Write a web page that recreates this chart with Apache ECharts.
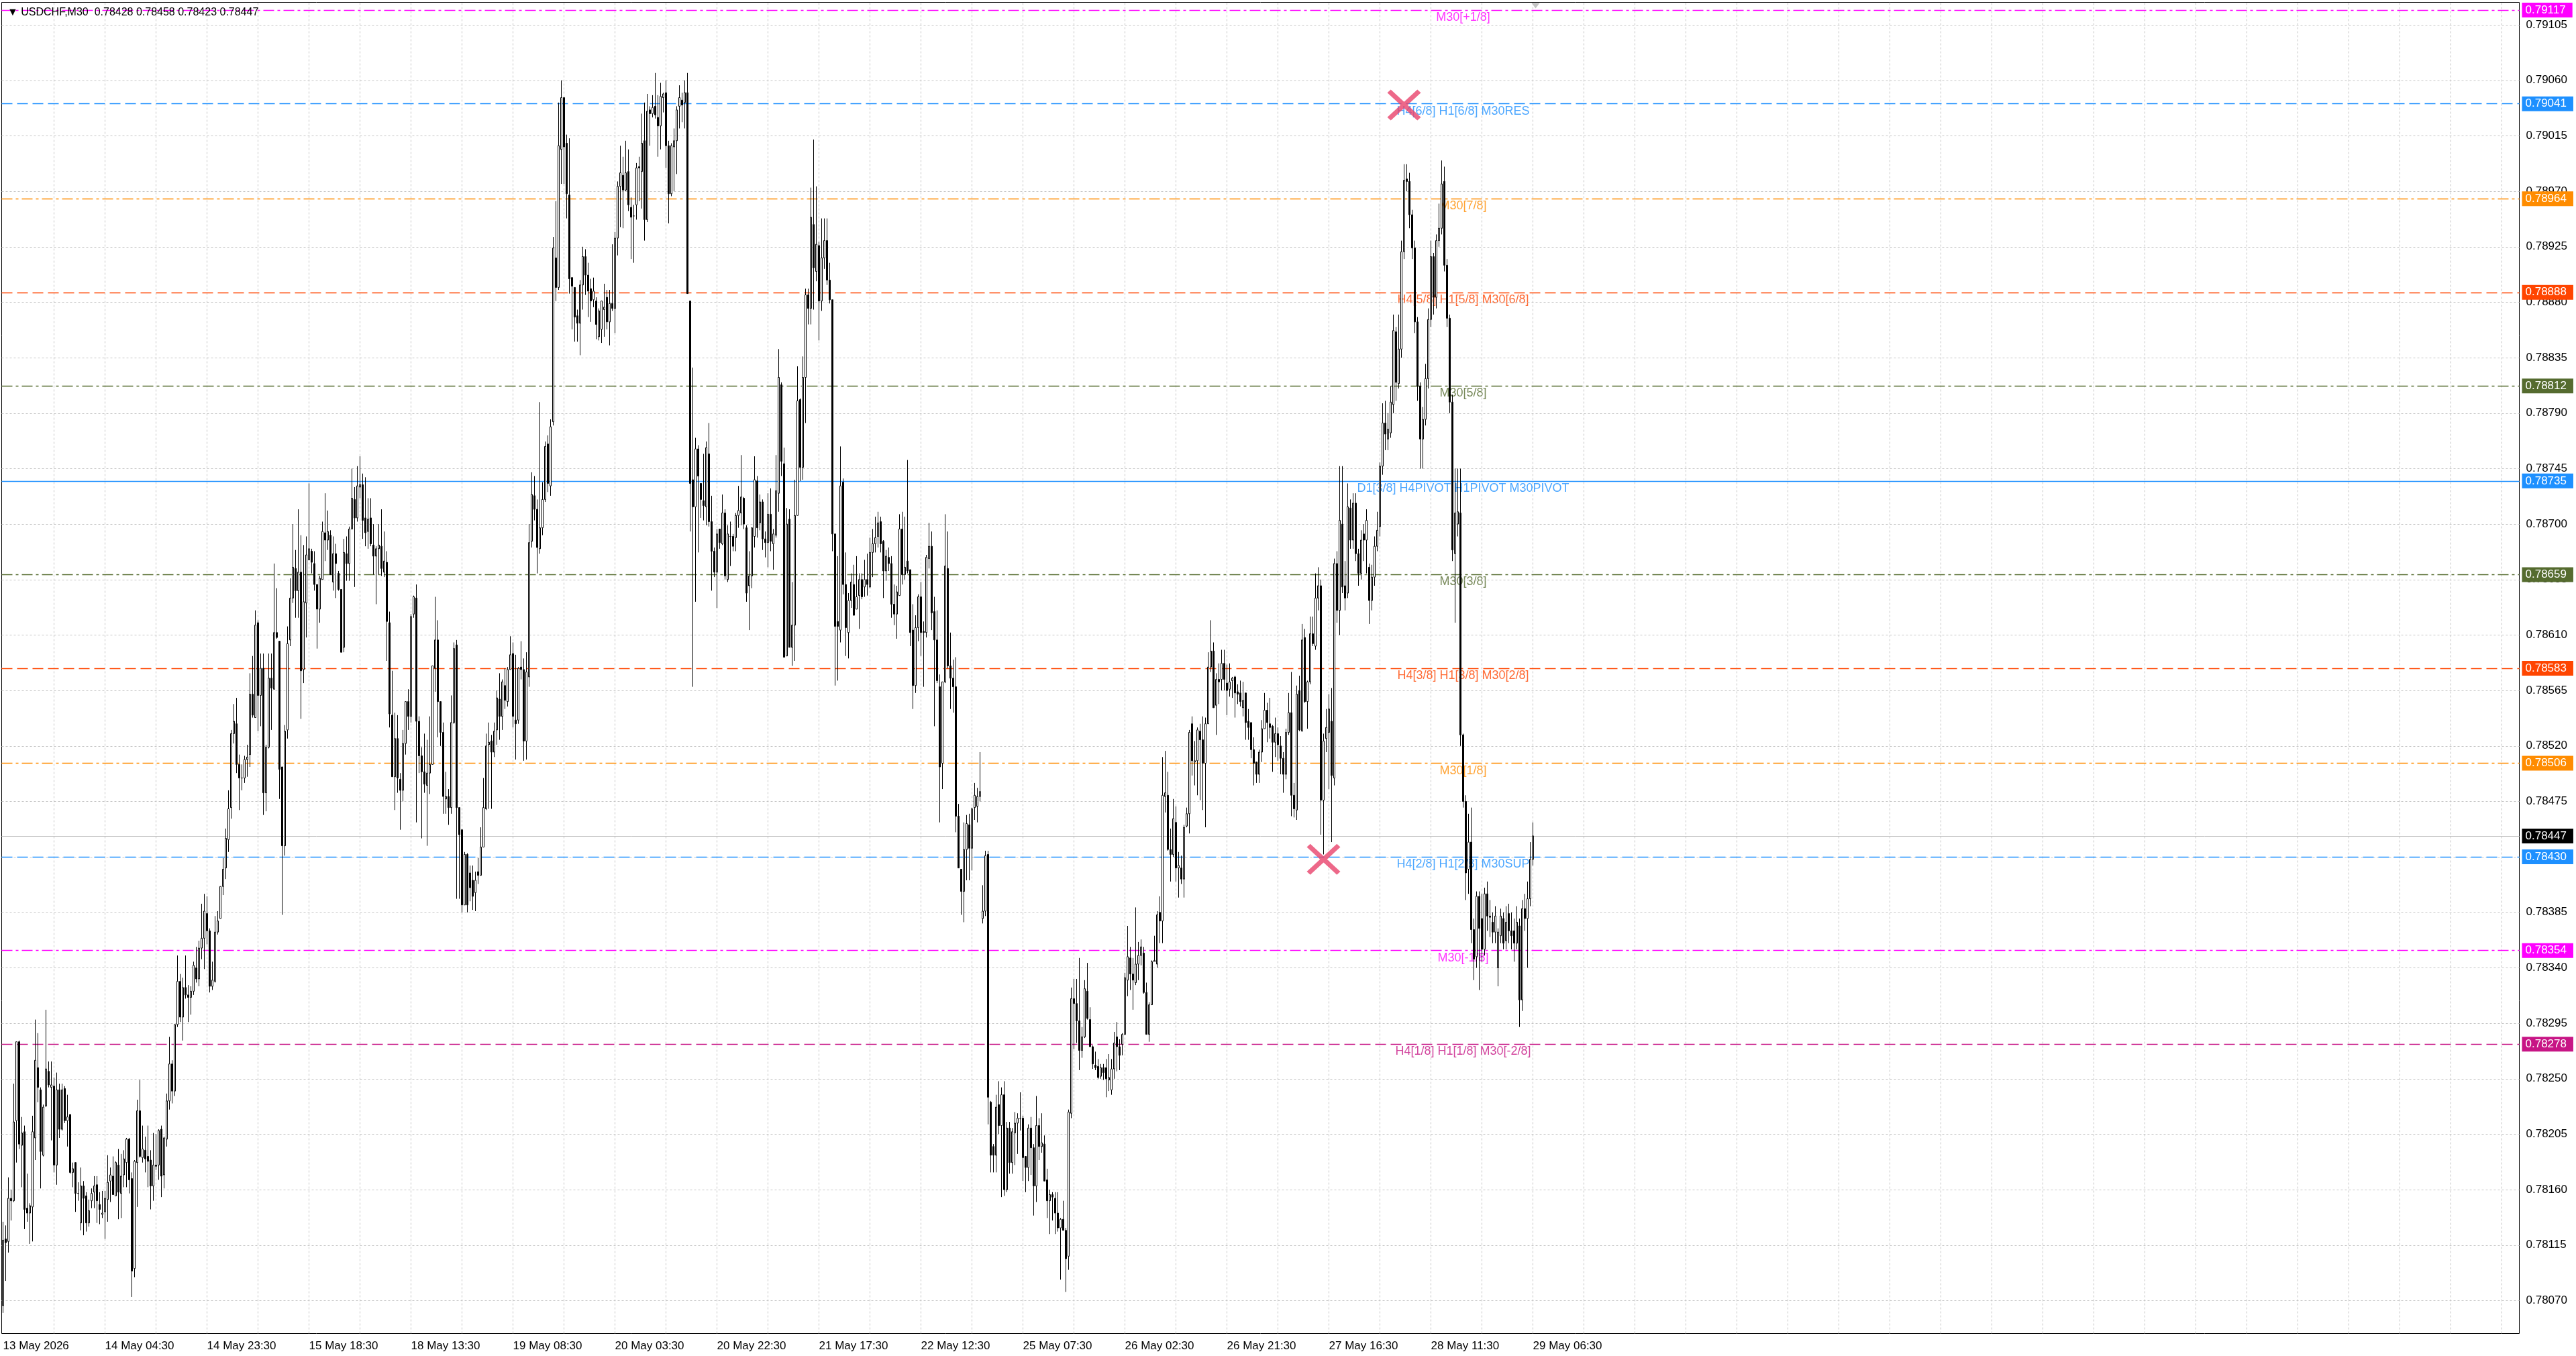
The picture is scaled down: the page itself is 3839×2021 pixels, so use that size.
<!DOCTYPE html>
<html><head><meta charset="utf-8">
<script src="https://cdn.jsdelivr.net/npm/echarts@6/dist/echarts.min.js"></script>
<style>html,body{margin:0;padding:0;background:#fff}#c{width:3839px;height:2021px}</style>
</head><body><div id="c"></div><script>
const symbolName = 'USDCHF';
const timeframe = 'M30';
const tickLabels = ['13 May 2026','14 May 04:30','14 May 23:30','15 May 18:30','18 May 13:30','19 May 08:30','20 May 03:30','20 May 22:30','21 May 17:30','22 May 12:30','25 May 07:30','26 May 02:30','26 May 21:30','27 May 16:30','28 May 11:30','29 May 06:30'];
const priceTicks = [0.78070,0.78115,0.78160,0.78205,0.78250,0.78295,0.78340,0.78385,0.78430,0.78475,0.78520,0.78565,0.78610,0.78655,0.78700,0.78745,0.78790,0.78835,0.78880,0.78925,0.78970,0.79015,0.79060,0.79105];
const levelValues = [0.79117,0.79041,0.78964,0.78888,0.78812,0.78735,0.78659,0.78583,0.78506,0.78430,0.78354,0.78278];
const levelColors = ['#ff00ff','#1e90ff','#ff8c00','#ff4500','#556b2f','#1e90ff','#556b2f','#ff4500','#ff8c00','#1e90ff','#ff00ff','#c71585'];
const levelStyles = ['dashdot','dashed','dashdot','dashed','dashdot','solid','dashdot','dashed','dashdot','dashed','dashdot','dashed'];
const levelTexts = ['M30[+1/8]','H4[6/8] H1[6/8] M30RES','M30[7/8]','H4[5/8] H1[5/8] M30[6/8]','M30[5/8]','D1[3/8] H4PIVOT H1PIVOT M30PIVOT','M30[3/8]','H4[3/8] H1[3/8] M30[2/8]','M30[1/8]','H4[2/8] H1[2/8] M30SUP','M30[-1/8]','H4[1/8] H1[1/8] M30[-2/8]'];
const crossMarks = [[492, 0.78428],[522, 0.79040]];
// candles: [open, high, low, close] in 1e-5 units
const candles = [
[78066,78134,78060,78119],[78120,78131,78086,78117],[78118,78170,78109,78153],[78153,78160,78135,78151],[78151,78246,78150,78215],[78216,78280,78182,78280],[78280,78281,78193,78197],[78196,78219,78162,78206],[78207,78212,78128,78144],[78145,78173,78134,78141],
[78141,78149,78116,78147],[78146,78220,78118,78207],[78202,78298,78184,78265],[78259,78287,78231,78243],[78241,78243,78161,78191],[78188,78229,78187,78227],[78228,78306,78227,78258],[78256,78264,78243,78245],[78243,78264,78200,78245],[78244,78251,78174,78180],
[78180,78255,78164,78241],[78241,78246,78202,78209],[78209,78246,78208,78241],[78242,78244,78214,78216],[78216,78237,78195,78219],[78221,78221,78173,78174],[78174,78182,78162,78177],[78182,78182,78142,78157],[78157,78166,78151,78157],[78133,78178,78127,78163],
[78163,78167,78123,78153],[78155,78158,78126,78133],[78133,78152,78130,78143],[78151,78161,78145,78157],[78158,78171,78145,78163],[78164,78171,78133,78151],[78148,78158,78132,78144],[78140,78159,78137,78141],[78142,78159,78120,78153],[78152,78188,78134,78166],
[78167,78178,78150,78172],[78171,78187,78156,78156],[78155,78183,78155,78182],[78180,78193,78136,78158],[78157,78189,78137,78171],[78172,78192,78162,78185],[78182,78202,78162,78201],[78201,78202,78157,78168],[78169,78174,78073,78094],[78096,78184,78089,78183],
[78182,78233,78146,78224],[78224,78249,78186,78187],[78186,78212,78182,78193],[78192,78203,78174,78185],[78187,78212,78162,78183],[78184,78192,78144,78163],[78163,78206,78151,78180],[78180,78205,78176,78179],[78180,78209,78168,78208],[78209,78212,78154,78171],
[78172,78203,78161,78202],[78201,78238,78195,78232],[78232,78284,78225,78262],[78262,78265,78230,78240],[78240,78294,78236,78294],[78294,78350,78292,78329],[78329,78335,78296,78300],[78300,78332,78281,78324],[78324,78350,78315,78318],[78318,78326,78296,78316],
[78316,78325,78302,78321],[78321,78345,78318,78342],[78340,78357,78328,78331],[78331,78362,78325,78356],[78356,78392,78347,78364],[78364,78400,78339,78386],[78384,78398,78359,78370],[78370,78372,78320,78325],[78325,78345,78322,78330],[78329,78382,78328,78369],
[78369,78386,78367,78378],[78380,78406,78380,78406],[78406,78429,78399,78420],[78421,78453,78412,78445],[78444,78484,78434,78469],[78470,78533,78461,78530],[78530,78554,78522,78540],[78538,78559,78498,78505],[78505,78513,78468,78494],[78494,78505,78484,78494],
[78494,78512,78490,78509],[78509,78521,78495,78511],[78513,78579,78503,78562],[78562,78593,78543,78545],[78543,78630,78543,78618],[78620,78622,78532,78561],[78561,78595,78536,78583],[78583,78595,78464,78482],[78482,78521,78467,78519],[78519,78595,78518,78575],
[78575,78595,78533,78567],[78566,78668,78566,78612],[78612,78648,78607,78608],[78605,78605,78477,78501],[78503,78503,78383,78439],[78439,78537,78431,78532],[78533,78617,78526,78603],[78606,78656,78601,78640],[78640,78700,78636,78665],[78664,78679,78624,78646],
[78646,78712,78624,78661],[78661,78691,78542,78581],[78582,78683,78571,78637],[78636,78690,78608,78675],[78671,78733,78671,78680],[78678,78680,78660,78669],[78668,78678,78646,78651],[78651,78651,78599,78631],[78631,78658,78620,78656],[78655,78702,78655,78694],
[78693,78725,78670,78687],[78687,78711,78679,78694],[78691,78695,78659,78659],[78653,78690,78646,78676],[78676,78684,78640,78668],[78660,78662,78646,78647],[78647,78647,78596,78596],[78600,78688,78596,78677],[78676,78690,78654,78668],[78668,78698,78654,78696],
[78696,78745,78696,78721],[78720,78730,78649,78705],[78705,78747,78702,78731],[78730,78755,78721,78732],[78732,78741,78688,78703],[78705,78738,78682,78693],[78694,78721,78680,78704],[78705,78721,78682,78684],[78683,78700,78659,78674],[78674,78682,78635,78680],
[78680,78700,78659,78683],[78682,78712,78658,78664],[78661,78694,78657,78670],[78669,78678,78589,78621],[78620,78629,78535,78546],[78545,78581,78495,78495],[78495,78547,78468,78526],[78526,78545,78482,78494],[78493,78498,78452,78484],[78484,78533,78475,78522],
[78522,78556,78513,78556],[78556,78566,78533,78544],[78544,78627,78539,78625],[78627,78642,78624,78641],[78640,78651,78458,78540],[78540,78544,78498,78512],[78512,78519,78445,78499],[78499,78530,78482,78489],[78488,78525,78439,78498],[78498,78544,78481,78505],
[78505,78585,78505,78585],[78583,78641,78564,78606],[78606,78622,78527,78556],[78556,78556,78520,78531],[78531,78539,78465,78479],[78477,78499,78465,78479],[78479,78485,78456,78470],[78470,78561,78465,78539],[78539,78604,78538,78599],[78602,78606,78396,78470],
[78470,78470,78396,78448],[78452,78452,78385,78391],[78391,78434,78391,78432],[78432,78433,78385,78391],[78417,78423,78394,78405],[78411,78423,78387,78398],[78401,78418,78386,78411],[78418,78429,78408,78415],[78415,78454,78415,78438],[78438,78494,78438,78470],
[78469,78530,78468,78520],[78521,78539,78469,78523],[78524,78529,78469,78515],[78515,78539,78511,78532],[78533,78565,78521,78559],[78558,78579,78525,78544],[78544,78574,78533,78572],[78569,78583,78550,78557],[78556,78584,78552,78582],[78582,78609,78582,78594],
[78595,78604,78535,78544],[78541,78594,78509,78538],[78541,78584,78538,78583],[78584,78605,78574,78582],[78582,78591,78508,78524],[78524,78596,78509,78580],[78576,78700,78568,78685],[78686,78742,78681,78724],[78723,78739,78703,78712],[78712,78720,78660,78681],
[78680,78799,78676,78697],[78697,78734,78691,78720],[78720,78767,78718,78763],[78765,78772,78726,78733],[78731,78785,78723,78779],[78783,78933,78780,78924],[78916,78962,78881,78892],[78892,79042,78890,79007],[79004,79060,78976,79046],[79046,79046,78976,79006],
[79009,79016,78948,78968],[78967,79013,78887,78899],[78900,78900,78858,78893],[78892,78892,78848,78868],[78869,78874,78848,78863],[78863,78898,78837,78894],[78894,78925,78874,78917],[78917,78923,78886,78902],[78902,78912,78868,78889],[78891,78899,78864,78881],
[78882,78900,78876,78889],[78881,78884,78850,78862],[78852,78875,78849,78873],[78858,78881,78847,78881],[78874,78895,78852,78876],[78884,78890,78858,78864],[78864,78890,78845,78879],[78879,78927,78873,78875],[78875,78937,78855,78932],[78932,78978,78918,78974],
[78974,79007,78941,78985],[78983,78998,78940,78971],[78971,79011,78970,78985],[78986,79004,78954,78959],[78957,78965,78915,78949],[78950,78959,78912,78950],[78959,78993,78947,78989],[78990,78998,78962,78989],[78986,79033,78956,79009],[79011,79042,78930,78947],
[78947,79049,78945,79035],[79036,79039,79007,79033],[79033,79048,79030,79038],[79039,79066,79029,79032],[79030,79048,78998,79023],[79023,79058,79004,79047],[79046,79050,79034,79049],[79050,79060,78989,79007],[79007,79011,78944,78968],[78968,79009,78966,79007],
[79006,79021,78970,79011],[79011,79039,78984,79036],[79039,79056,79021,79046],[79044,79050,79026,79040],[79042,79060,79021,79050],[79050,79066,78887,78887],[78881,78881,78694,78733],[78736,78827,78568,78714],[78714,78770,78637,78761],[78761,78764,78677,78739],
[78733,78733,78705,78720],[78719,78757,78703,78715],[78714,78767,78699,78762],[78757,78782,78698,78702],[78702,78723,78646,78678],[78678,78681,78657,78661],[78661,78696,78632,78692],[78696,78696,78680,78685],[78684,78724,78683,78709],[78709,78712,78655,78658],
[78655,78699,78653,78692],[78690,78702,78666,78690],[78690,78692,78678,78682],[78689,78709,78678,78707],[78707,78731,78697,78711],[78709,78756,78699,78722],[78721,78722,78696,78700],[78697,78699,78637,78644],[78650,78678,78614,78658],[78658,78697,78648,78697],
[78690,78755,78681,78736],[78735,78739,78689,78697],[78701,78724,78695,78718],[78718,78720,78679,78688],[78688,78694,78673,78685],[78685,78725,78665,78708],[78708,78729,78678,78686],[78684,78696,78663,78692],[78691,78756,78689,78727],[78725,78842,78710,78819],
[78813,78815,78739,78751],[78749,78762,78592,78592],[78593,78713,78593,78700],[78704,78712,78600,78600],[78600,78653,78585,78618],[78618,78736,78589,78707],[78707,78828,78707,78800],[78801,78802,78735,78746],[78746,78836,78736,78819],[78819,78891,78782,78886],
[78886,78891,78862,78875],[78875,78973,78862,78949],[78943,79012,78874,78908],[78905,78974,78897,78927],[78926,78929,78849,78881],[78881,78948,78873,78916],[78916,78948,78907,78930],[78930,78948,78894,78898],[78898,78912,78879,78882],[78882,78882,78678,78692],
[78692,78692,78569,78617],[78621,78674,78573,78617],[78614,78763,78604,78731],[78734,78737,78643,78651],[78651,78677,78593,78616],[78612,78644,78591,78638],[78638,78660,78632,78653],[78651,78667,78626,78626],[78631,78674,78631,78641],[78642,78660,78615,78655],
[78655,78660,78639,78641],[78649,78671,78641,78655],[78655,78676,78642,78651],[78649,78689,78648,78677],[78677,78696,78657,78684],[78684,78706,78677,78689],[78690,78710,78681,78701],[78702,78706,78677,78684],[78686,78687,78640,78662],[78662,78679,78654,78674],
[78673,78681,78662,78668],[78668,78674,78624,78635],[78635,78651,78618,78627],[78627,78650,78607,78645],[78642,78708,78642,78696],[78696,78710,78651,78659],[78659,78706,78655,78665],[78670,78752,78660,78662],[78663,78663,78601,78612],[78614,78635,78550,78569],
[78569,78626,78563,78616],[78616,78643,78605,78641],[78641,78653,78593,78612],[78613,78621,78568,78612],[78612,78675,78608,78673],[78672,78701,78664,78682],[78682,78694,78614,78628],[78629,78641,78536,78606],[78606,78630,78571,78573],[78568,78578,78458,78503],
[78506,78572,78485,78572],[78572,78708,78571,78666],[78664,78694,78583,78585],[78585,78612,78550,78575],[78575,78590,78547,78568],[78568,78592,78450,78463],[78463,78473,78421,78421],[78420,78420,78383,78402],[78402,78458,78377,78436],[78436,78464,78411,78457],
[78456,78465,78411,78437],[78437,78470,78419,78469],[78470,78490,78460,78480],[78471,78486,78458,78479],[78479,78515,78475,78483],[78380,78407,78376,78386],[78386,78435,78382,78431],[78432,78435,78213,78235],[78231,78232,78174,78188],[78195,78197,78174,78188],
[78188,78237,78174,78227],[78229,78248,78205,78212],[78212,78243,78154,78237],[78237,78248,78155,78160],[78160,78215,78158,78210],[78210,78215,78173,78182],[78182,78210,78173,78207],[78206,78223,78180,78214],[78214,78222,78189,78218],[78218,78239,78208,78218],
[78218,78220,78167,78186],[78187,78187,78158,78178],[78178,78213,78167,78210],[78210,78219,78172,78194],[78194,78197,78139,78163],[78163,78236,78150,78212],[78212,78218,78184,78195],[78195,78222,78190,78198],[78197,78204,78167,78167],[78168,78177,78137,78151],
[78151,78160,78124,78156],[78156,78158,78135,78154],[78153,78158,78124,78141],[78141,78158,78126,78129],[78129,78137,78087,78136],[78136,78151,78127,78127],[78127,78129,78077,78104],[78106,78225,78095,78223],[78222,78324,78218,78315],[78315,78331,78274,78311],
[78311,78331,78279,78297],[78297,78348,78257,78273],[78273,78292,78267,78284],[78284,78330,78283,78323],[78321,78344,78298,78299],[78298,78308,78276,78276],[78276,78277,78258,78262],[78261,78272,78257,78259],[78260,78266,78250,78251],[78252,78262,78250,78259],
[78259,78262,78249,78255],[78259,78266,78235,78250],[78249,78270,78240,78251],[78241,78266,78237,78258],[78258,78288,78250,78279],[78284,78296,78256,78276],[78276,78282,78257,78269],[78278,78287,78269,78286],[78286,78336,78286,78332],[78330,78374,78317,78349],
[78348,78357,78322,78335],[78335,78348,78306,78330],[78328,78389,78326,78343],[78343,78361,78330,78350],[78350,78363,78342,78357],[78352,78357,78319,78320],[78320,78328,78286,78286],[78286,78312,78280,78310],[78310,78346,78310,78345],[78345,78366,78345,78346],
[78343,78386,78340,78383],[78385,78398,78360,78378],[78378,78511,78360,78480],[78479,78516,78466,78482],[78480,78499,78435,78436],[78436,78453,78410,78432],[78432,78477,78430,78461],[78458,78471,78410,78421],[78421,78434,78397,78423],[78421,78431,78408,78412],
[78412,78456,78397,78454],[78455,78470,78454,78465],[78465,78533,78449,78531],[78538,78544,78496,78508],[78507,78524,78488,78508],[78508,78535,78480,78533],[78532,78538,78476,78525],[78525,78544,78468,78506],[78506,78543,78454,78538],[78538,78596,78538,78584],
[78584,78622,78580,78597],[78597,78604,78551,78551],[78553,78579,78529,78574],[78574,78587,78554,78572],[78574,78598,78565,78587],[78587,78598,78565,78574],[78571,78586,78545,78565],[78566,78587,78560,78572],[78573,78576,78559,78575],[78576,78577,78543,78563],
[78564,78570,78554,78562],[78563,78573,78552,78556],[78551,78572,78544,78557],[78563,78563,78525,78539],[78540,78550,78525,78535],[78539,78539,78510,78517],[78517,78527,78488,78506],[78507,78507,78490,78497],[78497,78517,78490,78515],[78515,78541,78507,78534],
[78534,78563,78534,78549],[78549,78555,78523,78539],[78538,78559,78526,78535],[78536,78537,78499,78523],[78523,78543,78511,78530],[78530,78535,78508,78521],[78520,78528,78497,78510],[78510,78515,78482,78497],[78497,78534,78493,78531],[78531,78563,78529,78547],
[78547,78580,78463,78480],[78480,78490,78462,78469],[78468,78569,78460,78562],[78565,78577,78532,78533],[78532,78619,78532,78606],[78608,78615,78555,78556],[78556,78573,78534,78572],[78572,78625,78570,78611],[78611,78625,78601,78603],[78601,78660,78598,78640],
[78640,78665,78630,78650],[78650,78655,78448,78476],[78476,78530,78432,78524],[78526,78550,78515,78535],[78531,78562,78485,78550],[78540,78567,78442,78496],[78494,78672,78488,78668],[78668,78678,78620,78630],[78630,78747,78610,78703],[78700,78747,78644,78649],
[78650,78670,78630,78640],[78644,78733,78640,78714],[78713,78720,78680,78687],[78687,78725,78680,78717],[78717,78725,78670,78676],[78676,78680,78650,78660],[78660,78695,78655,78687],[78692,78700,78670,78687],[78687,78712,78660,78703],[78665,78668,78619,78638],
[78638,78667,78630,78657],[78657,78690,78650,78682],[78682,78710,78678,78695],[78698,78750,78690,78747],[78747,78798,78740,78782],[78782,78800,78760,78773],[78769,78790,78760,78777],[78774,78812,78770,78799],[78797,78870,78790,78857],[78856,78860,78800,78815],
[78814,78870,78810,78842],[78842,78930,78835,78921],[78921,78992,78915,78979],[78980,78992,78970,78978],[78978,78985,78940,78951],[78951,78955,78915,78924],[78924,78930,78855,78864],[78864,78868,78800,78812],[78812,78815,78745,78769],[78769,78795,78745,78785],
[78785,78830,78780,78818],[78818,78875,78810,78866],[78866,78930,78860,78917],[78917,78920,78870,78884],[78884,78935,78875,78930],[78930,78960,78925,78940],[78940,78995,78935,78976],[78978,78990,78905,78910],[78910,78915,78860,78867],[78867,78870,78790,78799],
[78799,78805,78670,78679],[78676,78745,78620,78709],[78700,78745,78690,78710],[78709,78745,78520,78529],[78529,78530,78470,78475],[78475,78480,78395,78417],[78420,78465,78400,78442],[78442,78470,78360,78371],[78371,78380,78330,78347],[78349,78402,78340,78398],
[78398,78402,78322,78372],[78380,78400,78345,78355],[78355,78405,78350,78400],[78400,78410,78370,78382],[78382,78395,78365,78381],[78377,78385,78360,78369],[78369,78390,78360,78382],[78340,78372,78325,78369],[78366,78388,78360,78382],[78380,78385,78355,78360],
[78362,78390,78355,78377],[78384,78392,78360,78370],[78370,78385,78355,78366],[78370,78380,78345,78360],[78360,78390,78355,78377],[78374,78380,78292,78314],[78314,78395,78305,78388],[78388,78400,78370,78380],[78380,78410,78340,78396],[78396,78442,78390,78428],[78428,78458,78423,78447]
];

const FONT = "'Liberation Sans', Arial, sans-serif";
const SLOTS = 938;          // bar slots across the chart width (incl. empty future area)
const LABEL_STEP = 38;      // bars between time labels
const GRID_STEP = 19;       // bars between vertical grid lines
const ANNO_INDEX = 544;     // bar where level texts are centred
const Y_MIN = 0.7804330, Y_MAX = 0.7912330;

// time slots: M30 bars, skipping weekends
const categories = [];
(function(){
  let t = Date.UTC(2026, 4, 13, 9, 30);
  const p = n => String(n).padStart(2, '0');
  while (categories.length < SLOTS) {
    const d = new Date(t); const wd = d.getUTCDay();
    if (wd !== 0 && wd !== 6) categories.push(d.getUTCFullYear() + '.' + p(d.getUTCMonth()+1) + '.' + p(d.getUTCDate()) + ' ' + p(d.getUTCHours()) + ':' + p(d.getUTCMinutes()));
    t += 1800000;
  }
})();

const ohlc = candles.map(([o,h,l,c]) => [o/1e5, c/1e5, l/1e5, h/1e5]);
const last = candles[candles.length-1];
const fmt = v => (v/1e5).toFixed(5);
const header = '\u25BC ' + symbolName + ',' + timeframe + '  ' + fmt(last[0]) + ' ' + fmt(last[1]) + ' ' + fmt(last[2]) + ' ' + fmt(last[3]);
const bid = last[3]/1e5;

const dashMap = { dashed: [16, 7], dashdot: [16, 5, 4, 5], solid: 'solid' };

const gridLines = priceTicks.map(v => ({ yAxis: v, label: { formatter: v.toFixed(5) } }));
for (let i = GRID_STEP; i < SLOTS; i += GRID_STEP) gridLines.push({ xAxis: categories[i], label: { show: false } });

const levelLines = levelValues.map((v, i) => ({
  yAxis: v,
  lineStyle: { color: levelColors[i], type: dashMap[levelStyles[i]], width: 1.3 },
  label: { formatter: v.toFixed(5), backgroundColor: levelColors[i] }
}));
levelLines.push({ yAxis: bid, lineStyle: { color: '#c0c0c0', type: 'solid', width: 1 }, label: { formatter: bid.toFixed(5), backgroundColor: '#000' } });

const chart = echarts.init(document.getElementById('c'), null, { renderer: 'canvas', width: 3839, height: 2021 });
chart.setOption({
  animation: false,
  backgroundColor: '#ffffff',
  title: { text: header, left: 6, top: 6, textStyle: { fontSize: 16, fontWeight: 'normal', color: '#000', fontFamily: FONT } },
  grid: { left: 2.5, top: 3.5, width: 3752, height: 1984, show: true, borderColor: '#000', borderWidth: 1, backgroundColor: '#fff' },
  xAxis: {
    type: 'category', data: categories, boundaryGap: true,
    axisLine: { show: false }, axisTick: { show: false }, splitLine: { show: false },
    axisLabel: {
      interval: (i) => i % LABEL_STEP === 0 && (i / LABEL_STEP) < tickLabels.length,
      formatter: (v, i) => tickLabels[i / LABEL_STEP] || '',
      align: 'left', margin: 10, fontSize: 17, color: '#000', fontFamily: FONT
    }
  },
  yAxis: { type: 'value', min: Y_MIN, max: Y_MAX, show: false, scale: true },
  series: [
    { type: 'line', data: [], z: 1, silent: true,
      markLine: { silent: true, symbol: 'none', animation: false, precision: 5,
        lineStyle: { color: '#c4c4c4', type: [3, 3], width: 1 },
        label: { show: true, position: 'end', distance: 10, color: '#000', fontSize: 17, fontFamily: FONT },
        data: gridLines } },
    { type: 'line', data: [], z: 3, silent: true,
      markLine: { silent: true, symbol: 'none', animation: false, precision: 5,
        label: { show: true, position: 'end', distance: 4, color: '#fff', fontSize: 17, lineHeight: 17, padding: [3, 10, 2, 5], fontFamily: FONT },
        data: levelLines } },
    { type: 'scatter', z: 4, silent: true, symbol: 'circle', symbolSize: 0.1, itemStyle: { color: 'transparent' },
      label: { show: true, position: 'bottom', distance: 2, formatter: '{b}', fontSize: 18, fontFamily: FONT },
      data: levelValues.map((v, i) => ({ name: levelTexts[i], value: [ANNO_INDEX, v], label: { color: levelColors[i] } })) },
    { type: 'candlestick', z: 5, data: ohlc, barWidth: 2,
      itemStyle: { color: '#ffffff', color0: '#000000', borderColor: '#000000', borderColor0: '#000000', borderWidth: 1 } },
    { type: 'scatter', z: 6, silent: true,
      symbol: 'path://M2.5,0 L12,9.5 L21.5,0 L24,2.5 L14.5,12 L24,21.5 L21.5,24 L12,14.5 L2.5,24 L0,21.5 L9.5,12 L0,2.5 Z',
      symbolSize: [50, 46], itemStyle: { color: '#e8426c' }, data: crossMarks },
    { type: 'scatter', z: 6, silent: true, symbol: 'triangle', symbolRotate: 180, symbolSize: [12, 8], symbolOffset: [0, 5],
      itemStyle: { color: '#b4b4b4' }, data: [[candles.length, Y_MAX]] }
  ]
});
</script></body></html>
